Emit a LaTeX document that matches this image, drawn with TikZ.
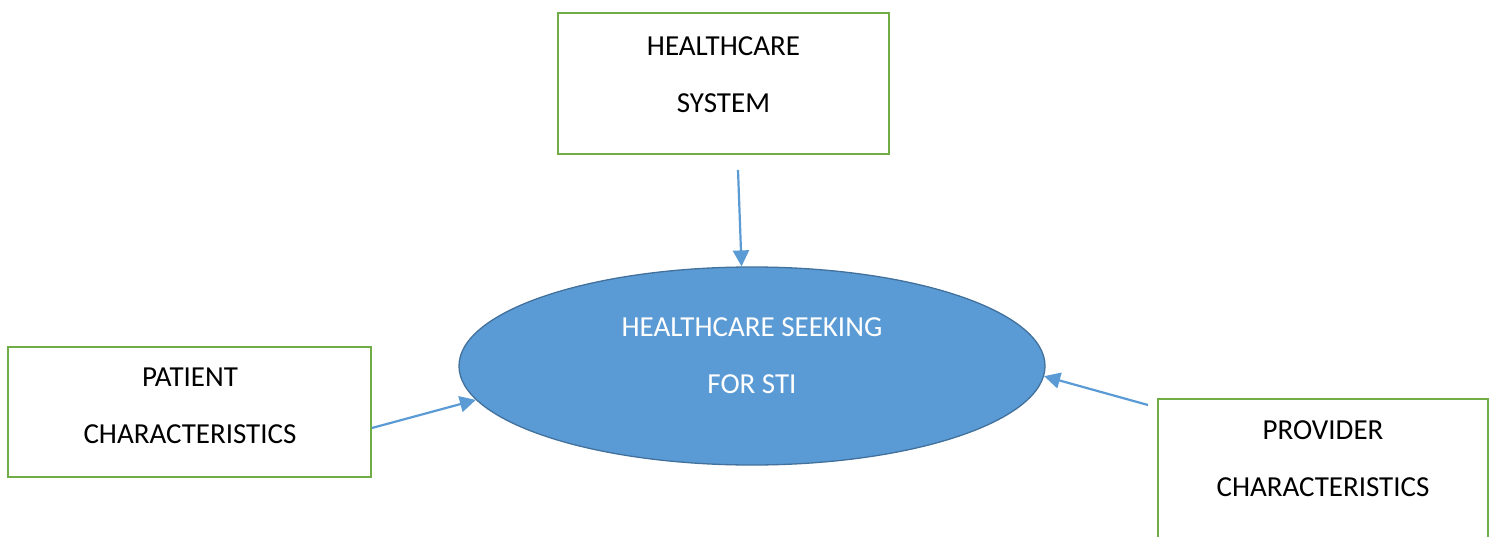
\documentclass[tikz,border=0pt]{standalone}
\usepackage{fontspec}
\setmainfont{Carlito}
\usetikzlibrary{shapes.geometric,arrows.meta}

\definecolor{boxgreen}{HTML}{70AD47}
\definecolor{seekblue}{HTML}{5B9BD5}
\definecolor{seekedge}{HTML}{41719C}

\begin{document}
\begin{tikzpicture}[x=1pt,y=-1pt,
  factor/.style={draw=boxgreen, line width=1.8pt, inner sep=0pt},
  caption/.style={font=\fontsize{29}{57}\selectfont, align=center, inner sep=0pt},
  link/.style={draw=seekblue, line width=2.2pt, -{Triangle[length=16pt,width=16pt]}}]
\clip (0,0) rectangle (1493,537);
\fill[white] (0,0) rectangle (1493,537);

% the three factors
\node[factor, minimum width=331pt, minimum height=141pt] (system) at (723.5,83.5) {};
\node[caption] (system-text) at (723.5,74.5) {HEALTHCARE\\SYSTEM};

\node[factor, minimum width=363pt, minimum height=130pt] (patient) at (189.5,412) {};
\node[caption] (patient-text) at (190,405.5) {PATIENT\\CHARACTERISTICS};

\node[factor, minimum width=330pt, minimum height=170pt] (provider) at (1323,484) {};
\node[caption] (provider-text) at (1323,459) {PROVIDER\\CHARACTERISTICS};

% the outcome
\node[ellipse, fill=seekblue, draw=seekedge, line width=1.3pt, inner sep=0pt,
  minimum width=586pt, minimum height=198pt] (seek) at (752,366) {};
\node[caption, text=white] (seek-text) at (752,355.5) {HEALTHCARE SEEKING\\FOR STI};

% arrows into the outcome
\coordinate (system-out) at (738,170);
\coordinate (provider-out) at (1148,405);
\draw[link] (system-out) -- (seek.96);
\draw[link] ([yshift=-16pt]patient.east) -- (seek.187);
\draw[link] (provider-out) -- (seek.358);
\end{tikzpicture}
\end{document}
